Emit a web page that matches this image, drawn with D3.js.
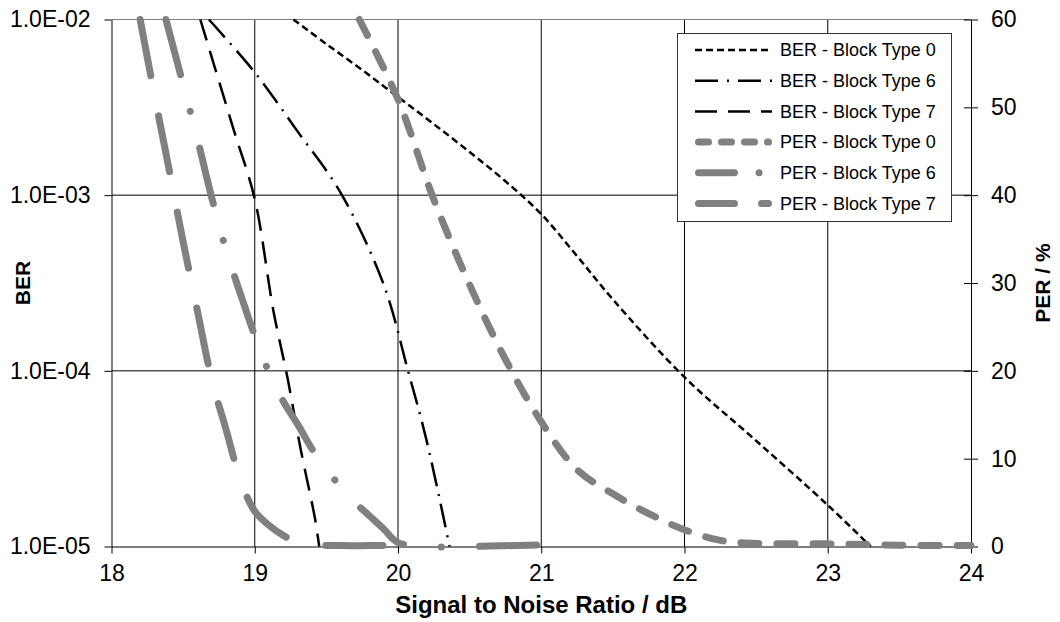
<!DOCTYPE html>
<html>
<head>
<meta charset="utf-8">
<script src="https://cdn.jsdelivr.net/npm/d3@7"></script>
<style>
  html, body { margin: 0; padding: 0; background: #fff; }
  svg { display: block; font-family: "Liberation Sans", Arial, sans-serif; }
</style>
</head>
<body>
<svg id="chart" width="1060" height="622"></svg>
<script>
// ---------------- data ----------------
const snrBer0 = [19.27, 19.5, 19.75, 20.0, 20.25, 20.5, 20.75, 21.0, 21.25, 21.5, 22.0, 22.5, 23.0, 23.3];
const ber0    = [1.0e-2, 7.25e-3, 5.16e-3, 3.62e-3, 2.54e-3, 1.76e-3, 1.2e-3, 7.8e-4, 4.5e-4, 2.55e-4, 9.2e-5, 4.0e-5, 1.72e-5, 1.0e-5];

const snrBer6 = [18.68, 19.0, 19.3, 19.6, 19.9, 20.07, 20.2, 20.36];
const ber6    = [1.0e-2, 5.0e-3, 2.3e-3, 1.03e-3, 3.1e-4, 1.0e-4, 4.0e-5, 1.0e-5];

const snrBer7 = [18.62, 18.85, 19.0, 19.13, 19.23, 19.32, 19.42, 19.45];
const ber7    = [1.0e-2, 2.4e-3, 9.5e-4, 2.2e-4, 9.0e-5, 3.6e-5, 1.45e-5, 1.0e-5];

const snrPer0 = [19.73, 20.0, 20.25, 20.5, 20.75, 21.0, 21.25, 21.5, 21.75, 22.0, 22.25, 22.5, 23.0, 23.5, 24.0];
const per0    = [60, 50.9, 39.5, 29.8, 21.3, 14.2, 8.75, 6.0, 3.75, 1.9, 0.7, 0.35, 0.3, 0.15, 0.1];

const snrPer6 = [18.38, 18.5, 18.6, 18.7, 18.8, 18.9, 19.0, 19.1, 19.2, 19.3, 19.4, 19.5, 19.6, 19.7, 19.8, 19.9, 20.0, 20.2, 20.5, 21.0];
const per6    = [60, 52.6, 46.4, 39.7, 33.75, 28.75, 24.0, 19.8, 16.5, 13.9, 11.1, 8.75, 6.8, 5.0, 3.5, 2.0, 0.45, 0.0, 0.0, 0.2];

const snrPer7 = [18.2, 18.3, 18.4, 18.5, 18.6, 18.7, 18.8, 18.9, 19.0, 19.1, 19.2, 19.3, 19.4, 19.6, 19.8, 20.0];
const per7    = [60, 51.4, 43.1, 34.7, 26.8, 19.0, 13.3, 7.6, 4.0, 2.4, 1.25, 0.5, 0.2, 0.1, 0.1, 0.1];

const seriesNames = ["BER - Block Type 0", "BER - Block Type 6", "BER - Block Type 7",
                     "PER - Block Type 0", "PER - Block Type 6", "PER - Block Type 7"];

const xTicks = [18, 19, 20, 21, 22, 23, 24];
const berTicks = [1e-5, 1e-4, 1e-3, 1e-2];
const berTickLabels = ["1.0E-05", "1.0E-04", "1.0E-03", "1.0E-02"];
const perTicks = [0, 10, 20, 30, 40, 50, 60];

const xTitle = "Signal to Noise Ratio / dB";
const yLeftTitle = "BER";
const yRightTitle = "PER / %";

// ---------------- layout ----------------
const X0 = 111.5, X1 = 971, Y0 = 19.5, Y1 = 546.5;
const svg = d3.select("#chart");

const x = d3.scaleLinear().domain([18, 24]).range([X0, X1]);
const yL = d3.scaleLog().domain([1e-5, 1e-2]).range([Y1, Y0]);
const yR = d3.scaleLinear().domain([0, 60]).range([Y1, Y0]);

const GRAY = "#808080";

// gridlines
const grid = svg.append("g");
grid.selectAll("line.v").data(xTicks.slice(1, -1)).join("line")
  .attr("x1", d => x(d)).attr("x2", d => x(d)).attr("y1", Y0).attr("y2", Y1)
  .attr("stroke", "#000").attr("stroke-width", 1);
grid.selectAll("line.h").data(berTicks.slice(1, -1)).join("line")
  .attr("x1", X0).attr("x2", X1).attr("y1", d => yL(d)).attr("y2", d => yL(d))
  .attr("stroke", "#000").attr("stroke-width", 1);
grid.append("line").attr("x1", X0).attr("x2", X1).attr("y1", Y0).attr("y2", Y0)
  .attr("stroke", GRAY).attr("stroke-width", 1.2);

// axes
const fontTick = 23;
const axL = svg.append("g").attr("transform", `translate(${X0},0)`)
  .call(d3.axisLeft(yL).tickValues(berTicks).tickSizeInner(7).tickSizeOuter(0).tickPadding(14)
    .tickFormat((d, i) => berTickLabels[i]));
const axB = svg.append("g").attr("transform", `translate(0,${Y1})`)
  .call(d3.axisBottom(x).tickValues(xTicks).tickSizeInner(7).tickSizeOuter(0).tickPadding(11)
    .tickFormat(d3.format("d")));
const axR = svg.append("g").attr("transform", `translate(${X1},0)`)
  .call(d3.axisRight(yR).tickValues(perTicks).tickSizeInner(7).tickSizeOuter(0).tickPadding(13)
    .tickFormat(d3.format("d")));
axR.selectAll(".tick line").attr("x1", -7);
[axL, axB, axR].forEach(a => {
  a.select(".domain").attr("stroke", "#000").attr("stroke-width", 1);
  a.selectAll(".tick line").attr("stroke", "#000");
  a.selectAll("text").attr("font-size", fontTick).attr("fill", "#000")
    .attr("font-family", '"Liberation Sans", Arial, sans-serif');
});

// titles
svg.append("text").attr("x", (X0 + X1) / 2).attr("y", 613).attr("text-anchor", "middle")
  .attr("font-size", 24).attr("font-weight", "bold").text(xTitle);
svg.append("text").attr("transform", `translate(30,${(Y0 + Y1) / 2}) rotate(-90)`)
  .attr("text-anchor", "middle").attr("font-size", 21).attr("font-weight", "bold").text(yLeftTitle);
svg.append("text").attr("transform", `translate(1050,${(Y0 + Y1) / 2}) rotate(-90)`)
  .attr("text-anchor", "middle").attr("font-size", 21).attr("font-weight", "bold").text(yRightTitle);

// series
const styles = [
  { color: "#000", width: 2.5, dash: "7,4", cap: "butt", legDash: "7,4" },
  { color: "#000", width: 2.5, dash: "24,8,2,8", cap: "butt", legDash: "23,9,2,9" },
  { color: "#000", width: 2.5, dash: "22,11", cap: "butt", legDash: "22,11" },
  { color: GRAY, width: 7, dash: "18,18", cap: "round", legDash: "10,13" },
  { color: GRAY, width: 7, dash: "57,38,0.1,38", cap: "round", legDash: "36,24.5,0.1,24.5" },
  { color: GRAY, width: 7, dash: "57,41", cap: "round", legDash: "36,27" }
];

const series = [
  { xs: snrBer0, ys: ber0, y: yL },
  { xs: snrBer6, ys: ber6, y: yL },
  { xs: snrBer7, ys: ber7, y: yL },
  { xs: snrPer0, ys: per0, y: yR },
  { xs: snrPer6, ys: per6, y: yR },
  { xs: snrPer7, ys: per7, y: yR }
];

const plot = svg.append("g");
series.forEach((s, i) => {
  const pts = s.xs.map((v, k) => [v, s.ys[k]]);
  const line = d3.line().x(d => x(d[0])).y(d => s.y(d[1])).curve(d3.curveCatmullRom.alpha(0.5));
  const st = styles[i];
  plot.append("path").attr("d", line(pts)).attr("fill", "none")
    .attr("stroke", st.color).attr("stroke-width", st.width)
    .attr("stroke-dasharray", st.dash).attr("stroke-linecap", st.cap)
    .attr("stroke-linejoin", "round");
});

// legend
const LX = 677.5, LY = 33.5, LW = 274, LH = 188;
const leg = svg.append("g");
leg.append("rect").attr("x", LX).attr("y", LY).attr("width", LW).attr("height", LH)
  .attr("fill", "#fff").attr("stroke", "#333").attr("stroke-width", 1);
seriesNames.forEach((name, i) => {
  const cy = 50 + i * 30.7;
  const st = styles[i];
  const inset = st.cap === "round" ? 3.5 : 0;
  leg.append("line").attr("x1", 695 + inset).attr("x2", 772 - inset).attr("y1", cy).attr("y2", cy)
    .attr("stroke", st.color).attr("stroke-width", st.width)
    .attr("stroke-dasharray", st.legDash).attr("stroke-linecap", st.cap);
  leg.append("text").attr("x", 780).attr("y", cy).attr("dy", "0.35em")
    .attr("font-size", 18).attr("fill", "#000").text(name);
});
</script>
</body>
</html>
